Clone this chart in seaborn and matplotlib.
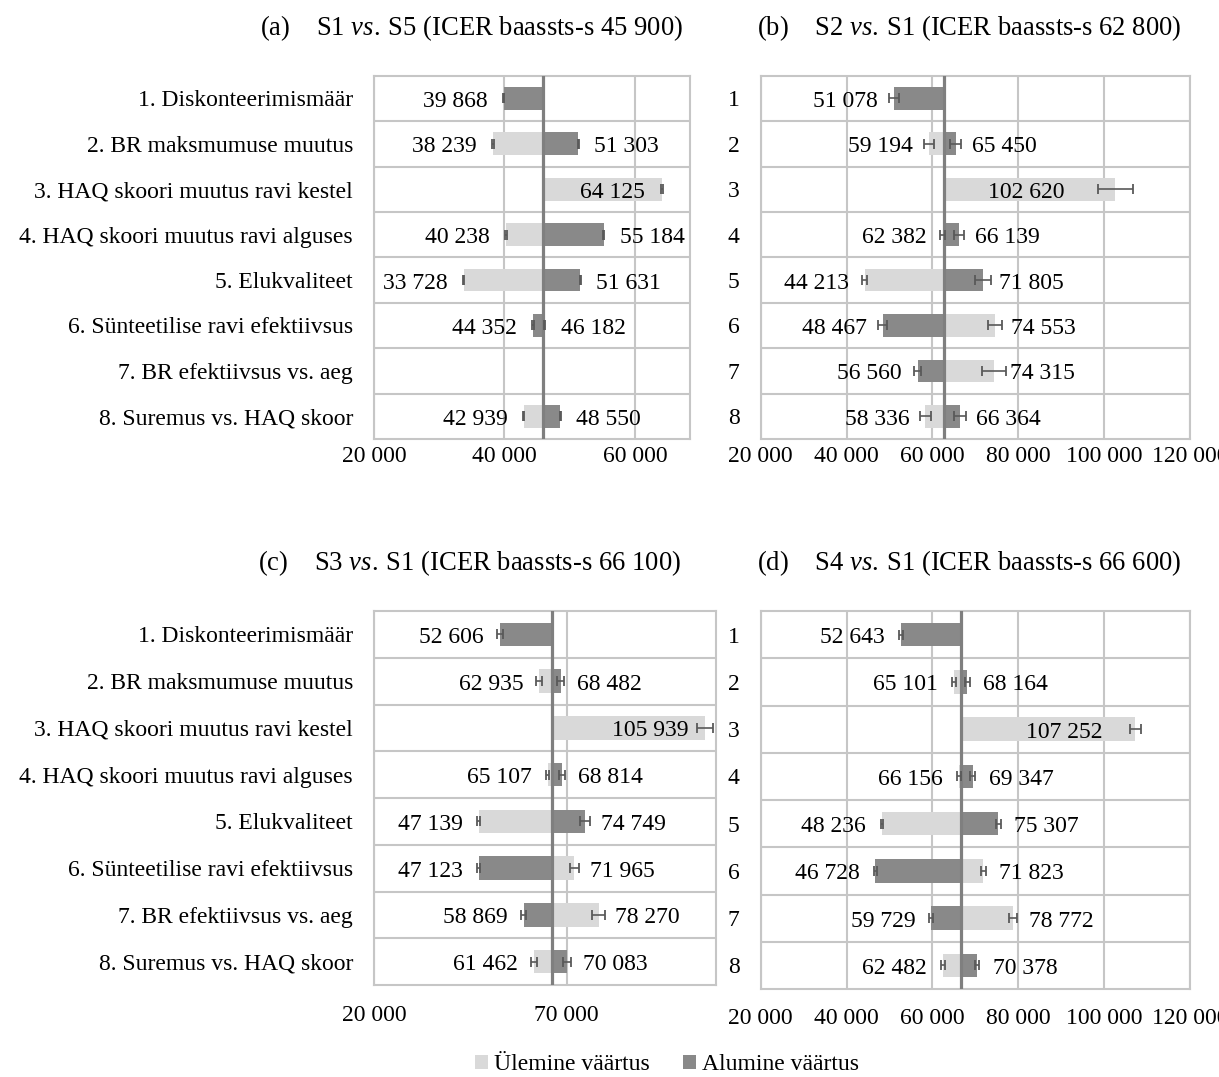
import numpy as np
import pandas as pd
import matplotlib
matplotlib.use("Agg")
import matplotlib.pyplot as plt
import seaborn as sns
from matplotlib.patches import Patch

# ---------------------------------------------------------------- data
factors = [
    "1. Diskonteerimismäär",
    "2. BR maksmumuse muutus",
    "3. HAQ skoori muutus ravi kestel",
    "4. HAQ skoori muutus ravi alguses",
    "5. Elukvaliteet",
    "6. Sünteetilise ravi efektiivsus",
    "7. BR efektiivsus vs. aeg",
    "8. Suremus vs. HAQ skoor",
]
factor_numbers = ["1", "2", "3", "4", "5", "6", "7", "8"]

series_names = ["Ülemine väärtus", "Alumine väärtus"]

panel_tags = ["(a)", "(b)", "(c)", "(d)"]
comparisons = ["S1 $\\mathit{vs.}\\:$S5", "S2 $\\mathit{vs.}\\:$S1",
               "S3 $\\mathit{vs.}\\:$S1", "S4 $\\mathit{vs.}\\:$S1"]
base_icer = [45900, 62800, 66100, 66600]

nan = np.nan
upper_a = [nan, 38239, 64125, 40238, 33728, 46182, nan, 42939]
lower_a = [39868, 51303, nan, 55184, 51631, 44352, nan, 48550]
upper_err_a = [0, 100, 100, 100, 100, 100, 0, 100]
lower_err_a = [100, 100, 0, 100, 100, 100, 0, 100]

upper_b = [nan, 59194, 102620, 62382, 44213, 74553, 74315, 58336]
lower_b = [51078, 65450, nan, 66139, 71805, 48467, 56560, 66364]
upper_err_b = [0, 1150, 4150, 550, 500, 1700, 2750, 1250]
lower_err_b = [1150, 1250, 0, 1150, 1950, 1050, 850, 1350]

upper_c = [nan, 62935, 105939, 65107, 47139, 71965, 78270, 61462]
lower_c = [52606, 68482, nan, 68814, 74749, 47123, 58869, 70083]
upper_err_c = [0, 780, 2150, 350, 390, 1200, 1700, 780]
lower_err_c = [780, 900, 0, 780, 1300, 500, 680, 1000]

upper_d = [nan, 65101, 107252, 66156, 48236, 71823, 78772, 62482]
lower_d = [52643, 68164, nan, 69347, 75307, 46728, 59729, 70378]
upper_err_d = [0, 500, 1250, 400, 250, 600, 950, 500]
lower_err_d = [500, 550, 0, 480, 600, 330, 480, 560]

upper_values = [upper_a, upper_b, upper_c, upper_d]
lower_values = [lower_a, lower_b, lower_c, lower_d]
upper_errors = [upper_err_a, upper_err_b, upper_err_c, upper_err_d]
lower_errors = [lower_err_a, lower_err_b, lower_err_c, lower_err_d]

x_ticks = [[20000, 40000, 60000],
           [20000, 40000, 60000, 80000, 100000, 120000],
           [20000, 70000],
           [20000, 40000, 60000, 80000, 100000, 120000]]

# ---------------------------------------------------------------- layout
W, H = 1219, 1077
DPI = 100
PX = 72.0 / DPI  # points per pixel

# axes boxes in pixels: left, right, top, bottom
boxes = [(374, 690, 75.7, 439), (760.7, 1190, 75.7, 439),
         (374, 716, 611, 985), (760.7, 1190, 611, 989)]
x_limits = [(20000, 68430), (20000, 120000), (20000, 108740), (20000, 120000)]
title_pos = [(260, 35), (757, 35), (258, 570), (757, 570)]
xtick_pad_px = [6.6, 6.6, 19.6, 19]
inside_label_px = [17, 51, 17, 33]   # label inset for the long "ravi kestel" bar

LIGHT = "#D9D9D9"
DARK = "#898989"
GRID = "#C6C6C6"
BASE = "#7F7F7F"
ERR = "#595959"
FS = 17
TITLE_FS = 19.2

sns.set_theme(style="white")
plt.rcParams["font.family"] = ["Liberation Serif", "DejaVu Serif"]
plt.rcParams["mathtext.fontset"] = "custom"
plt.rcParams["mathtext.rm"] = "Liberation Serif"
plt.rcParams["mathtext.it"] = "Liberation Serif:italic"
plt.rcParams["text.color"] = "black"


def fmt(v):
    return f"{int(round(v)):,}".replace(",", " ")


fig = plt.figure(figsize=(W / DPI, H / DPI), dpi=DPI)
fig.patch.set_facecolor("white")

for p in range(4):
    left, right, top, bottom = boxes[p]
    ax = fig.add_axes([left / W, 1 - bottom / H, (right - left) / W, (bottom - top) / H])
    base = base_icer[p]
    cats = factors if p % 2 == 0 else factor_numbers

    rows = []
    for name, vals in zip(series_names, (upper_values[p], lower_values[p])):
        for c, v in zip(cats, vals):
            if not np.isnan(v):
                rows.append({"factor": c, "series": name, "delta": v - base})
    df = pd.DataFrame(rows)

    # bars are measured from the base-case ICER
    sns.barplot(data=df, x="delta", y="factor", hue="series", order=cats,
                hue_order=series_names, palette=[LIGHT, DARK], dodge=False,
                width=0.5, errorbar=None, legend=False, ax=ax,
                orient="y", zorder=2, linewidth=0)

    # error bars at the bar ends
    for vals, errs in ((upper_values[p], upper_errors[p]), (lower_values[p], lower_errors[p])):
        for i, (v, e) in enumerate(zip(vals, errs)):
            if np.isnan(v):
                continue
            ax.errorbar(v - base, i, xerr=e, fmt="none", ecolor=ERR,
                        elinewidth=1.2, capsize=3.8, capthick=1.3, zorder=4)

    # value labels
    for vals in (upper_values[p], lower_values[p]):
        for i, v in enumerate(vals):
            if np.isnan(v):
                continue
            if i == 2:
                off, ha = -inside_label_px[p], "right"
            elif v < base:
                off, ha = -16, "right"
            else:
                off, ha = 16, "left"
            ax.annotate(fmt(v), xy=(v - base, i), xytext=(off * PX, -3 * PX),
                        textcoords="offset points", ha=ha, va="center",
                        fontsize=FS, color="black", zorder=5)

    # base-case line
    ax.axvline(0, color=BASE, lw=2.3, zorder=3)

    xmin, xmax = x_limits[p]
    ax.set_xlim(xmin - base, xmax - base)
    ax.set_ylim(len(cats) - 0.5, -0.5)
    ticks = x_ticks[p]
    ax.set_xticks([t - base for t in ticks])
    ax.set_xticklabels([fmt(t) for t in ticks])
    ax.set_yticks(range(len(cats)))
    ax.set_yticklabels(cats)
    ax.set_yticks(np.arange(0.5, len(cats) - 0.5), minor=True)
    ax.set_xlabel("")
    ax.set_ylabel("")

    ax.grid(True, axis="x", which="major", color=GRID, lw=1.5, zorder=0)
    ax.grid(True, axis="y", which="minor", color=GRID, lw=1.5, zorder=0)
    ax.grid(False, axis="y", which="major")
    ax.set_axisbelow(True)
    for s in ax.spines.values():
        s.set_visible(True)
        s.set_color(GRID)
        s.set_linewidth(1.5)

    ax.tick_params(axis="x", which="both", length=0, labelsize=FS,
                   pad=xtick_pad_px[p] * PX, colors="black")
    ax.tick_params(axis="y", which="both", length=0, labelsize=FS,
                   pad=21 * PX, colors="black")
    ax.set_facecolor("white")

    tx, ty = title_pos[p]
    fig.text(tx / W, 1 - ty / H,
             f"{panel_tags[p]}    {comparisons[p]} (ICER baassts-s {fmt(base)})",
             ha="left", va="baseline", fontsize=TITLE_FS)

handles = [Patch(facecolor=LIGHT, edgecolor="none"), Patch(facecolor=DARK, edgecolor="none")]
fig.legend(handles, series_names, loc="center", bbox_to_anchor=(667 / W, 1 - 1065 / H),
           ncol=2, frameon=False, fontsize=FS, handlelength=0.55, handleheight=0.55,
           handletextpad=0.25, columnspacing=1.4)

fig.savefig("out.png", dpi=DPI, facecolor="white")
